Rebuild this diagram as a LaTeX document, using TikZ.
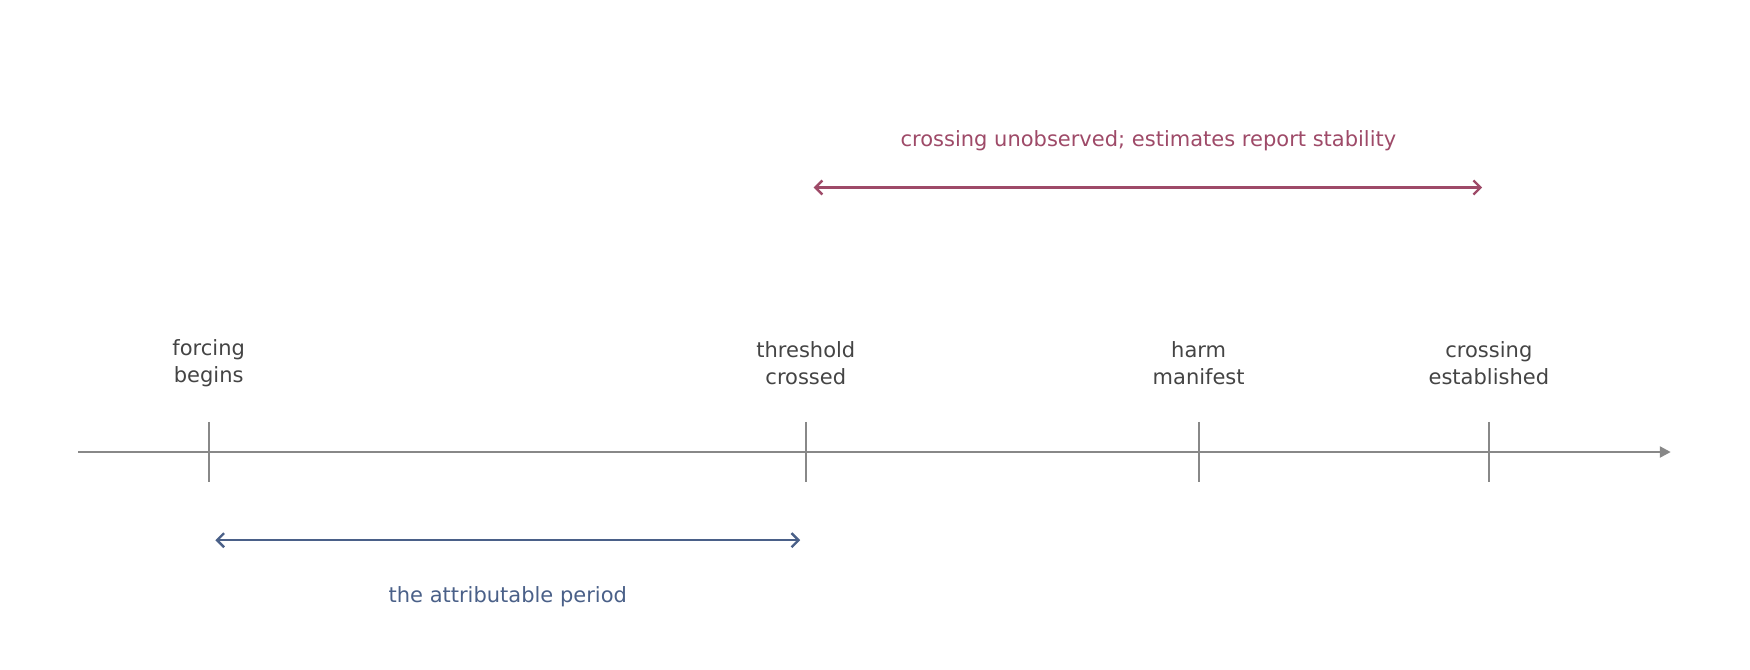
\documentclass[tikz,border=0pt]{standalone}
\usepackage{fontspec}
\setmainfont{DejaVu Sans}
\usetikzlibrary{arrows.meta}
\definecolor{axisgray}{HTML}{888888}
\definecolor{labelgray}{HTML}{444444}
\definecolor{periodblue}{HTML}{4A6088}
\definecolor{gapred}{HTML}{9E4A68}

\begin{document}
\begin{tikzpicture}[x=1.116pt, y=-1.116pt,
    every node/.style={font=\fontsize{21}{27}\selectfont, align=center},
    tick/.style={draw=axisgray, line width=2.2pt},
    span/.style={line width=2.4pt, {Straight Barb[length=7pt,width=14pt]}-{Straight Barb[length=7pt,width=14pt]}}]
    \useasboundingbox (0,0) rectangle (1568,600);

    % time axis
    \coordinate (start) at (70,405);
    \coordinate (end) at (1497,405);
    \draw[draw=axisgray, line width=2.4pt, -{Triangle[length=11pt,width=11pt]}] (start) -- (end);

    % events
    \foreach \x/\name/\txt in {187/forcing/forcing\\begins, 722/threshold/threshold\\crossed,
        1074/harm/harm\\manifest, 1334/established/crossing\\established} {
        \coordinate (\name-top) at (\x,378);
        \coordinate (\name-bot) at (\x,432);
        \draw[tick] (\name-top) -- (\name-bot);
        \node[text=labelgray] (\name-lbl) at (\x,325) {\txt};
    }

    % spans
    \coordinate (blue-l) at (193,484);
    \coordinate (blue-r) at (717,484);
    \draw[span, draw=periodblue] (blue-l) -- (blue-r);
    \node[text=periodblue] (blue-lbl) at (455,535) {the attributable period};

    \coordinate (red-l) at (729,168);
    \coordinate (red-r) at (1328,168);
    \draw[span, draw=gapred] (red-l) -- (red-r);
    \node[text=gapred] (red-lbl) at (1029,126) {crossing unobserved; estimates report stability};
\end{tikzpicture}
\end{document}
